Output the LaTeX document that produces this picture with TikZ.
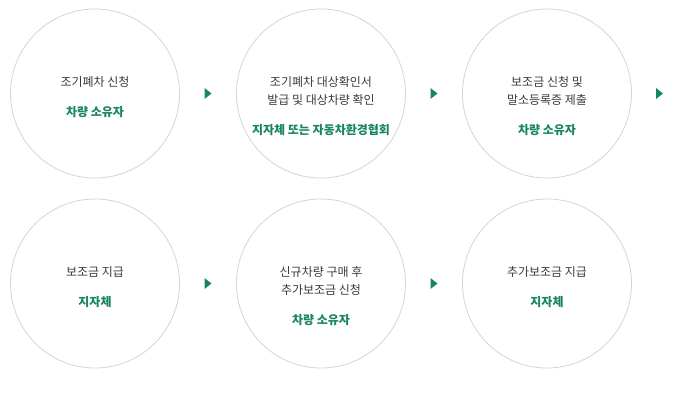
\documentclass[tikz,border=0pt]{standalone}
\usepackage{fontspec}
\setmainfont{Noto Sans CJK KR}
\usepackage{tikz}
\usetikzlibrary{positioning}

\definecolor{stepgreen}{HTML}{17865A}
\definecolor{ringgray}{HTML}{D4D4D4}
\definecolor{txtgray}{HTML}{3A3A3A}

\tikzset{
  ring/.style={circle, draw=ringgray, line width=0.8pt, minimum size=169pt, inner sep=0pt},
  task/.style={text=txtgray, font=\fontsize{12pt}{18pt}\selectfont, align=center, inner sep=0pt},
  who/.style={text=stepgreen, font=\fontsize{12pt}{14pt}\selectfont\bfseries, inner sep=0pt},
  nexttip/.style={fill=stepgreen}
}

\begin{document}
\begin{tikzpicture}[x=1pt, y=-1pt]
  \useasboundingbox (0,0) rectangle (680,400);
  % circles
  \node[ring] (C1) at (95,93.5) {};
  \node[ring] (C2) at (321,93.5) {};
  \node[ring] (C3) at (547,93.5) {};
  \node[ring] (C4) at (95,283.5) {};
  \node[ring] (C5) at (321,283.5) {};
  \node[ring] (C6) at (547,283.5) {};
  % texts
  \node[task] (T1) at (95,82) {조기폐차 신청};
  \node[who] (W1) at (95,112) {차량 소유자};
  \node[task] (T2) at (321,91) {조기폐차 대상확인서\\발급 및 대상차량 확인};
  \node[who] (W2) at (321,130) {지자체 또는 자동차환경협회};
  \node[task] (T3) at (547,91) {보조금 신청 및\\말소등록증 제출};
  \node[who] (W3) at (547,130) {차량 소유자};
  \node[task] (T4) at (95,272) {보조금 지급};
  \node[who] (W4) at (95,302) {지자체};
  \node[task] (T5) at (321,281) {신규차량 구매 후\\추가보조금 신청};
  \node[who] (W5) at (321,320) {차량 소유자};
  \node[task] (T6) at (547,272) {추가보조금 지급};
  \node[who] (W6) at (547,302) {지자체};
  % arrows
  \foreach \x/\y in {204.5/93.5, 430.5/93.5, 656/93.5, 204.5/283.5, 430.5/283.5}
    \fill[nexttip] (\x,\y-5.5) -- (\x+7,\y) -- (\x,\y+5.5) -- cycle;
\end{tikzpicture}
\end{document}
